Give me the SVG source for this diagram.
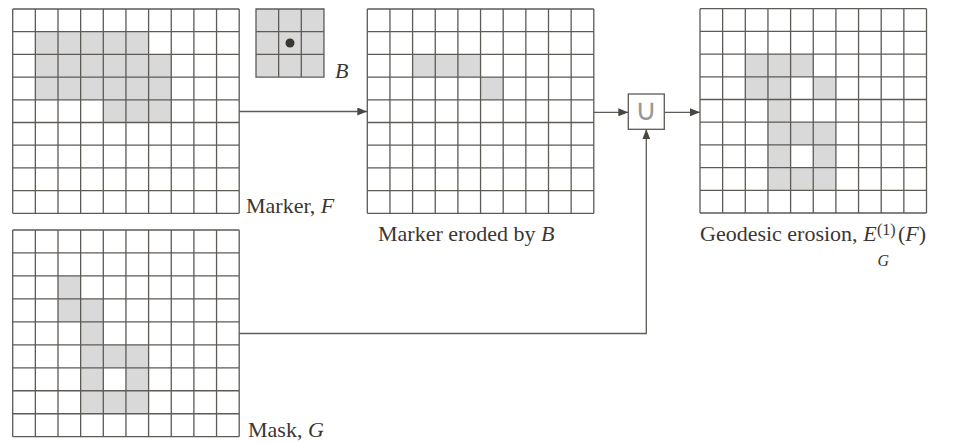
<svg xmlns="http://www.w3.org/2000/svg" xmlns:xlink="http://www.w3.org/1999/xlink" width="963" height="443" viewBox="0 0 963 443">
<style>
.bg{fill:#ffffff}
.cell{fill:#d9d9d9}
.grid{fill:none;stroke:#5e5a56;stroke-width:1.3}
.conn{fill:none;stroke:#5e5a56;stroke-width:1.3}
.lbl{font-family:"Liberation Serif","Times New Roman",serif;font-size:22px;fill:#3a3632}
.small{font-size:16px}
.it{font-style:italic}
.sym{font-family:"DejaVu Sans",sans-serif;font-size:30px;font-weight:200;fill:#9a9795}
</style>
<defs>
<path id="g10x9" class="grid" d="M0,0V204.3M22.65,0V204.3M45.3,0V204.3M67.95,0V204.3M90.6,0V204.3M113.25,0V204.3M135.9,0V204.3M158.55,0V204.3M181.2,0V204.3M203.85,0V204.3M226.5,0V204.3M0,0H226.5M0,22.7H226.5M0,45.4H226.5M0,68.1H226.5M0,90.8H226.5M0,113.5H226.5M0,136.2H226.5M0,158.9H226.5M0,181.6H226.5M0,204.3H226.5"/>
<marker id="ah" viewBox="0 0 10 8" refX="10" refY="4" markerWidth="10" markerHeight="8" markerUnits="userSpaceOnUse" orient="auto">
<path d="M0,0L10,4L0,8z" fill="#4a4642"/>
</marker>
</defs>
<rect class="bg" x="0" y="0" width="963" height="443"/>

<g id="marker-F" transform="translate(12.7,9)">
<rect class="cell" x="22.65" y="22.7" width="113.25" height="22.7"/>
<rect class="cell" x="22.65" y="45.4" width="135.9" height="45.4"/>
<rect class="cell" x="90.6" y="90.8" width="67.95" height="22.7"/>
<use xlink:href="#g10x9"/>
<text class="lbl" x="233.3" y="204">Marker, <tspan class="it">F</tspan></text>
</g>

<g id="struct-B" transform="translate(256,9)">
<rect class="cell" x="0" y="0" width="67.95" height="68.1"/>
<path class="grid" d="M0,0H67.95V68.1H0ZM22.65,0V68.1M45.3,0V68.1M0,22.7H67.95M0,45.4H67.95"/>
<circle cx="34" cy="34" r="4.5" fill="#3a3632"/>
<text class="lbl it" x="79" y="69">B</text>
</g>

<g id="mask-G" transform="translate(12.7,230)">
<g transform="scale(1,1.0117)">
<rect class="cell" x="45.3" y="45.4" width="22.65" height="22.7"/>
<rect class="cell" x="45.3" y="68.1" width="45.3" height="22.7"/>
<rect class="cell" x="67.95" y="90.8" width="22.65" height="22.7"/>
<rect class="cell" x="67.95" y="113.5" width="67.95" height="22.7"/>
<rect class="cell" x="67.95" y="136.2" width="22.65" height="22.7"/>
<rect class="cell" x="113.25" y="136.2" width="22.65" height="22.7"/>
<rect class="cell" x="67.95" y="158.9" width="67.95" height="22.7"/>
<use xlink:href="#g10x9"/>
</g>
<text class="lbl" x="235.3" y="207">Mask, <tspan class="it">G</tspan></text>
</g>

<g id="eroded" transform="translate(367.3,9)">
<rect class="cell" x="45.3" y="45.4" width="67.95" height="22.7"/>
<rect class="cell" x="113.25" y="68.1" width="22.65" height="22.7"/>
<use xlink:href="#g10x9"/>
<text class="lbl" x="10.7" y="232">Marker eroded by <tspan class="it">B</tspan></text>
</g>

<g id="union" transform="translate(628.3,94)">
<rect x="0" y="0" width="36" height="35.3" fill="#ffffff" stroke="#5e5a56" stroke-width="1.3"/>
<text class="sym" x="18" y="26" text-anchor="middle">∪</text>
</g>

<g id="geodesic" transform="translate(700,8.7)">
<rect class="cell" x="45.3" y="45.4" width="67.95" height="22.7"/>
<rect class="cell" x="45.3" y="68.1" width="45.3" height="22.7"/>
<rect class="cell" x="113.25" y="68.1" width="22.65" height="22.7"/>
<rect class="cell" x="67.95" y="90.8" width="22.65" height="22.7"/>
<rect class="cell" x="67.95" y="113.5" width="67.95" height="22.7"/>
<rect class="cell" x="67.95" y="136.2" width="22.65" height="22.7"/>
<rect class="cell" x="113.25" y="136.2" width="22.65" height="22.7"/>
<rect class="cell" x="67.95" y="158.9" width="67.95" height="22.7"/>
<use xlink:href="#g10x9"/>
<text class="lbl" x="0" y="232.3">Geodesic erosion, <tspan class="it">E</tspan></text>
<text class="lbl small" x="177" y="226">(1)</text>
<text class="lbl small it" x="177.5" y="257.5">G</text>
<text class="lbl" x="198" y="232.3">(<tspan class="it">F</tspan>)</text>
</g>

<g id="connectors">
<line class="conn" x1="239.2" y1="111.5" x2="367.3" y2="111.5" marker-end="url(#ah)"/>
<line class="conn" x1="593.8" y1="112.3" x2="628.3" y2="112.3" marker-end="url(#ah)"/>
<line class="conn" x1="664.3" y1="112.3" x2="700" y2="112.3" marker-end="url(#ah)"/>
<path class="conn" d="M239.2,333.5H646.3V129.3" marker-end="url(#ah)"/>
</g>
</svg>
